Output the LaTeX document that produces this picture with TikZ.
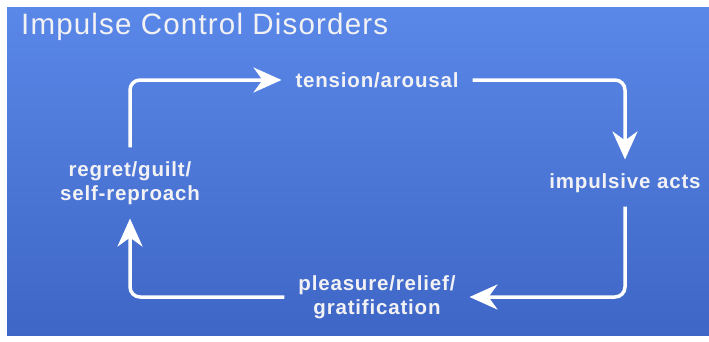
\documentclass[tikz,border=0pt]{standalone}
\usepackage{fontspec}
\setmainfont{Liberation Sans}
\usetikzlibrary{arrows.meta}
\definecolor{bgtop}{RGB}{90,136,232}
\definecolor{bgbottom}{RGB}{62,102,198}
\definecolor{textwhite}{RGB}{242,242,245}
\tikzset{>={Stealth[length=28pt,width=25pt,inset=9pt]}}
\tikzset{cycnode/.style={text=textwhite, inner sep=0pt, outer sep=14pt, align=center,
		font=\bfseries\addfontfeature{LetterSpace=4}\fontsize{20.5}{24}\selectfont}}
\tikzset{cycarrow/.style={->, white, line width=3.5pt, rounded corners=10pt}}
\begin{document}
\begin{tikzpicture}[x=1pt,y=1pt]
		\useasboundingbox (0,0) rectangle (709,341);
		\fill[white] (0,0) rectangle (709,341);
		\shade[top color=bgtop, bottom color=bgbottom] (7,6) rectangle (709,333);
		\node[anchor=base west, text=textwhite, inner sep=0pt,
			font=\addfontfeature{LetterSpace=4}\fontsize{29.5}{32}\selectfont] (title) at (21,307) {Impulse Control Disorders};
		\node[cycnode] (tension) at (377,261) {tension/arousal};
		\node[cycnode] (impulsive) at (625,158) {impulsive acts};
		\node[cycnode] (pleasure) at (377,44) {pleasure/relief/\\gratification};
		\node[cycnode] (regret) at (130,158) {regret/guilt/\\self-reproach};
		\draw[cycarrow] (regret) |- (tension);
		\draw[cycarrow] (tension) -| (impulsive);
		\draw[cycarrow] (impulsive) |- (pleasure);
		\draw[cycarrow] (pleasure) -| (regret);
	\end{tikzpicture}
\end{document}
